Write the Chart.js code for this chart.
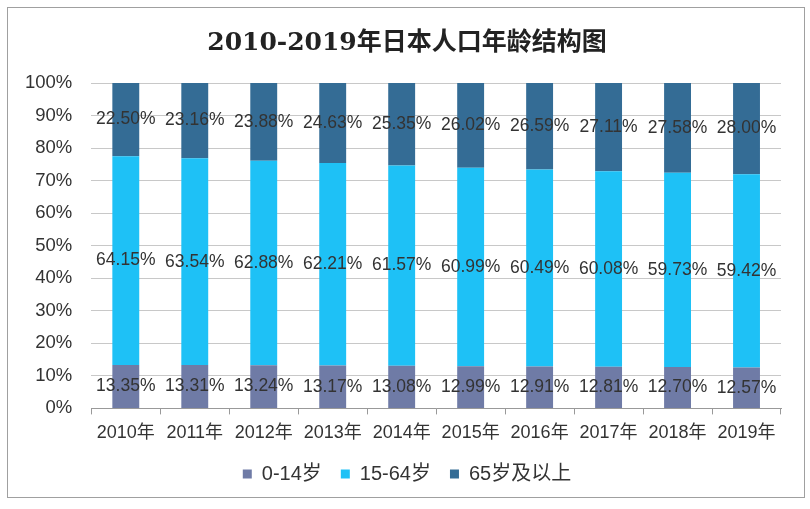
<!DOCTYPE html>
<html>
<head>
<meta charset="utf-8">
<script src="https://cdn.jsdelivr.net/npm/chart.js@4/dist/chart.umd.min.js"></script>
<style>
  html, body { margin: 0; padding: 0; background: #fff; }
  #wrap { position: relative; width: 810px; height: 509px; }
  #frame { position: absolute; left: 7px; top: 7px; width: 796px; height: 489px; border: 1px solid #a0a0a0; }
  canvas { position: absolute; left: 0; top: 0; }
</style>
</head>
<body>
<div id="wrap">
  <div id="frame"></div>
  <canvas id="age-chart" width="810" height="509"></canvas>
</div>
<script>
// 年份
const years = [ '2010年', '2011年', '2012年', '2013年', '2014年', '2015年', '2016年', '2017年', '2018年', '2019年' ];
// 各年龄段占比（%）
const age0to14 = [ 13.35, 13.31, 13.24, 13.17, 13.08, 12.99, 12.91, 12.81, 12.70, 12.57 ];
const age15to64 = [ 64.15, 63.54, 62.88, 62.21, 61.57, 60.99, 60.49, 60.08, 59.73, 59.42 ];
const age65plus = [ 22.50, 23.16, 23.88, 24.63, 25.35, 26.02, 26.59, 27.11, 27.58, 28.00 ];

const sansFont = 'Arial, "Liberation Sans", "Noto Sans CJK SC"';

// 数据标签
const barLabels = {
	id: 'barLabels',
	afterLayout( chart ) {
		// 标题、图例在整个画布居中
		[ chart.titleBlock, chart.legend ].forEach( function ( box ) {
			if ( box ) {
				box.left = 4;
				box.right = chart.width;
				box.width = chart.width - 4;
			}
		} );
		// 图例稍微上移
		if ( chart.legend ) {
			chart.legend.top -= 7;
			chart.legend.bottom -= 7;
		}
	},
	afterDatasetsDraw( chart ) {
		const ctx = chart.ctx;
		ctx.save();
		ctx.font = '17.5px ' + sansFont;
		ctx.fillStyle = '#333';
		ctx.textAlign = 'center';
		ctx.textBaseline = 'middle';
		chart.data.datasets.forEach( function ( ds, i ) {
			const meta = chart.getDatasetMeta( i );
			meta.data.forEach( function ( bar, j ) {
				const y = ( bar.y + bar.base ) / 2;
				ctx.fillText( ds.data[ j ].toFixed( 2 ) + '%', bar.x, y );
			} );
		} );
		ctx.restore();
	}
};

const ctx = document.getElementById( 'age-chart' ).getContext( '2d' );
new Chart( ctx, {
	type: 'bar',
	data: {
		labels: years,
		datasets: [
			{ label: '0-14岁', data: age0to14, backgroundColor: '#6f7ba6' },
			{ label: '15-64岁', data: age15to64, backgroundColor: '#1ec1f6' },
			{ label: '65岁及以上', data: age65plus, backgroundColor: '#346c95' }
		]
	},
	options: {
		responsive: false,
		animation: false,
		layout: { padding: { left: 6, right: 29, top: 14, bottom: 8 } },
		datasets: { bar: { barPercentage: 0.39, categoryPercentage: 1 } },
		plugins: {
			title: {
				display: true,
				text: '2010-2019年日本人口年龄结构图',
				color: '#222',
				font: { family: '"DejaVu Serif", "Noto Sans CJK SC"', size: 25, weight: 'bold' },
				padding: { top: 14, bottom: 25 }
			},
			legend: {
				position: 'bottom',
				labels: {
					boxWidth: 9,
					boxHeight: 9,
					padding: 19,
					color: '#333',
					font: { family: sansFont, size: 20 }
				}
			},
			tooltip: { enabled: false }
		},
		scales: {
			x: {
				stacked: true,
				grid: { display: true, drawOnChartArea: false, drawTicks: true, tickLength: 6, color: '#999', offset: true },
				border: { color: '#999' },
				ticks: { color: '#333', padding: 8, font: { family: sansFont, size: 18 }, maxRotation: 0 }
			},
			y: {
				stacked: true,
				min: 0,
				max: 100,
				ticks: {
					stepSize: 10,
					color: '#333',
					padding: 19,
					font: { family: 'Arial, "Liberation Sans"', size: 18.5 },
					callback: function ( v ) { return v + '%'; }
				},
				grid: { color: '#c8c8c8', drawTicks: false },
				border: { display: false }
			}
		}
	},
	plugins: [ barLabels ]
} );
</script>
</body>
</html>
